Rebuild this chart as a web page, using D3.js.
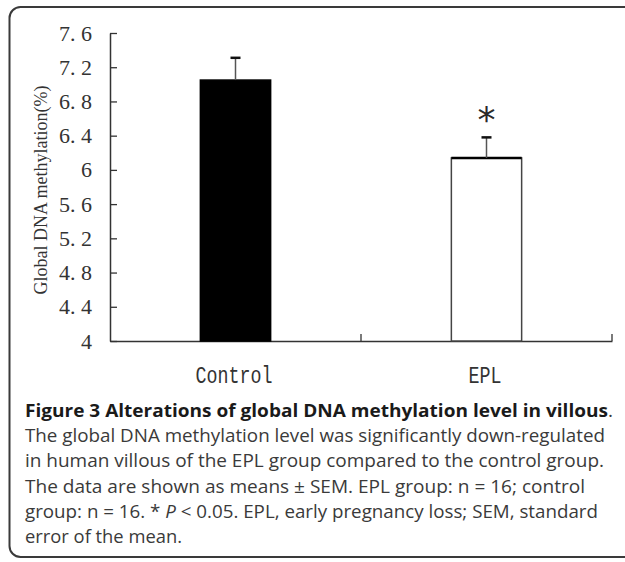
<!DOCTYPE html>
<html>
<head>
<meta charset="utf-8">
<script src="https://cdn.jsdelivr.net/npm/d3@7"></script>
<style>
  html, body { margin: 0; padding: 0; background: #fff; }
  svg { display: block; }
</style>
</head>
<body>
<svg id="chart" width="625" height="562"></svg>
<script>
// ---- data ----
const categories = ["Control", "EPL"];
const means = [7.05, 6.14];
const sems = [0.26, 0.24];
const significant = [false, true];
const yTicks = [4, 4.4, 4.8, 5.2, 5.6, 6, 6.4, 6.8, 7.2, 7.6];
const yTitle = "Global DNA methylation(%)";
const captionLines = [
  [{t: "Figure 3 Alterations of global DNA methylation level in villous", w: "bold"}, {t: ".", w: "normal"}],
  [{t: "The global DNA methylation level was significantly down-regulated"}],
  [{t: "in human villous of the EPL group compared to the control group."}],
  [{t: "The data are shown as means \u00b1 SEM. EPL group: n = 16; control"}],
  [{t: "group: n = 16. * "}, {t: "P", i: true}, {t: " < 0.05. EPL, early pregnancy loss; SEM, standard"}],
  [{t: "error of the mean."}]
];
const captionWidths = [588, 580, 579, 560, 573, 157];

(function () {
// ---- layout ----
const svg = d3.select("#chart");
const mLeft = 110, mRight = 612, mTop = 33, mBottom = 341;

// frame
svg.append("rect")
  .attr("x", 9.5).attr("y", 7).attr("width", 640).attr("height", 550)
  .attr("rx", 11).attr("ry", 11)
  .attr("fill", "#fff").attr("stroke", "#3a3a3a").attr("stroke-width", 2);

const y = d3.scaleLinear().domain([4, 7.6]).range([mBottom, mTop]);
const x = d3.scaleBand().domain(categories).range([mLeft, mRight]).padding(0);
const barFrac = 0.28;
const bw = x.bandwidth() * barFrac;

const g = svg.append("g");

// y axis
const yAxis = d3.axisLeft(y)
  .tickValues(yTicks)
  .tickSizeInner(-7).tickSizeOuter(0)
  .tickPadding(18)
  .tickFormat(d => d3.format("~g")(d).replace(".", ". "));
const ya = g.append("g").attr("transform", `translate(${mLeft},0)`).call(yAxis);
ya.select(".domain").attr("stroke", "#333").attr("stroke-width", 1.5);
ya.selectAll(".tick line").attr("stroke", "#333").attr("stroke-width", 1.3);
ya.selectAll(".tick text")
  .attr("font-family", "'Liberation Serif', serif")
  .attr("font-size", 22)
  .attr("fill", "#333");

// x axis line with boundary ticks
const xa = g.append("g").attr("transform", `translate(0,${mBottom})`)
  .call(d3.axisBottom(x).tickSize(0).tickFormat(""));
xa.select(".domain").attr("stroke", "#333").attr("stroke-width", 1.5);
g.selectAll(".xtick").data(categories).enter().append("line")
  .attr("class", "xtick")
  .attr("x1", d => x(d) + x.bandwidth()).attr("x2", d => x(d) + x.bandwidth())
  .attr("y1", mBottom).attr("y2", mBottom - 7)
  .attr("stroke", "#333").attr("stroke-width", 1.3);

// bars
const data = categories.map((c, i) => ({c, m: means[i], s: sems[i], sig: significant[i], i}));
g.selectAll(".bar").data(data).enter().append("rect")
  .attr("class", "bar")
  .attr("x", d => x(d.c) + (x.bandwidth() - bw) / 2)
  .attr("width", bw)
  .attr("y", d => y(d.m))
  .attr("height", d => y(4) - y(d.m))
  .attr("fill", d => d.i === 0 ? "#000" : "#fff")
  .attr("stroke", d => d.i === 0 ? "#000" : "#444")
  .attr("stroke-width", 1.5);
// thick top edge on white bar
g.selectAll(".bartop").data(data.filter(d => d.i !== 0)).enter().append("line")
  .attr("x1", d => x(d.c) + (x.bandwidth() - bw) / 2)
  .attr("x2", d => x(d.c) + (x.bandwidth() + bw) / 2)
  .attr("y1", d => y(d.m)).attr("y2", d => y(d.m))
  .attr("stroke", "#000").attr("stroke-width", 2.5);

// error bars (upper only)
g.selectAll(".err").data(data).enter().append("line")
  .attr("x1", d => x(d.c) + x.bandwidth() / 2).attr("x2", d => x(d.c) + x.bandwidth() / 2)
  .attr("y1", d => y(d.m)).attr("y2", d => y(d.m + d.s))
  .attr("stroke", "#555").attr("stroke-width", 1.5);
g.selectAll(".cap").data(data).enter().append("line")
  .attr("x1", d => x(d.c) + x.bandwidth() / 2 - 5).attr("x2", d => x(d.c) + x.bandwidth() / 2 + 5)
  .attr("y1", d => y(d.m + d.s)).attr("y2", d => y(d.m + d.s))
  .attr("stroke", "#111").attr("stroke-width", 2.5);

// significance star
g.selectAll(".star").data(data.filter(d => d.sig)).enter().append("text")
  .attr("x", d => x(d.c) + x.bandwidth() / 2)
  .attr("y", d => y(d.m + d.s) - 5)
  .attr("text-anchor", "middle")
  .attr("font-family", "'DejaVu Sans', sans-serif")
  .attr("font-size", 36)
  .attr("fill", "#2a2a2a")
  .text("*");

// x labels
g.selectAll(".xlab").data(categories).enter().append("text")
  .attr("x", d => x(d) + x.bandwidth() / 2 - 1.5)
  .attr("y", 383)
  .attr("text-anchor", "middle")
  .attr("font-family", "'Liberation Mono', monospace")
  .attr("font-size", 24)
  .attr("textLength", d => d.length * 11)
  .attr("lengthAdjust", "spacingAndGlyphs")
  .attr("fill", "#333")
  .text(d => d);

// y title
svg.append("text")
  .attr("transform", "translate(47,190) rotate(-90)")
  .attr("text-anchor", "middle")
  .attr("font-family", "'Liberation Serif', serif")
  .attr("font-size", 18)
  .attr("fill", "#333")
  .text(yTitle);

// caption
const cap = svg.append("g");
captionLines.forEach((line, li) => {
  const t = cap.append("text")
    .attr("x", 25).attr("y", 417 + li * 25.2)
    .attr("font-family", "'Open Sans', sans-serif")
    .attr("font-size", 17.5)
    .attr("fill", "#333")
    .attr("textLength", captionWidths[li])
    .attr("lengthAdjust", "spacingAndGlyphs");
  line.forEach(seg => {
    t.append("tspan")
      .attr("font-weight", seg.w || "normal")
      .attr("font-style", seg.i ? "italic" : "normal")
      .attr("fill", seg.w === "bold" ? "#1a1a1a" : "#3a3a3a")
      .text(seg.t);
  });
});
})();
</script>
</body>
</html>
